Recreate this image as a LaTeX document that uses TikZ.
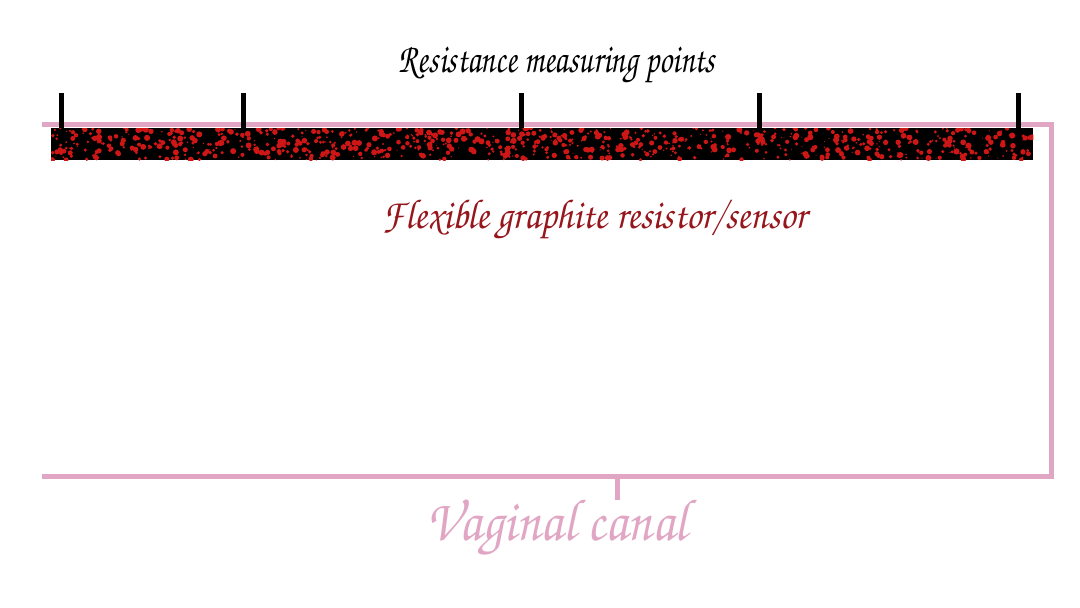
\documentclass[tikz,border=0pt]{standalone}
\usepackage[T1]{fontenc}
\usepackage{tikz}
\definecolor{canalpink}{RGB}{225,166,196}
\definecolor{sensorred}{RGB}{150,22,28}
\definecolor{grainred}{RGB}{205,22,22}

\begin{document}
\begin{tikzpicture}[x=1pt, y=-1pt,
  lbl/.style={inner sep=0pt, anchor=base},
  canal/.style={draw=canalpink, line width=5pt},
  probe/.style={draw=black, line width=5pt},
  grain/.style={fill=grainred}
]
  \useasboundingbox (0,0) rectangle (1080,608);

  % Labels
  \node[lbl, font=\fontfamily{pzc}\fontsize{32}{34}\selectfont] at (557,72) (pts)
      {\scalebox{1}[1.3]{Resistance measuring points}};
  \node[lbl, text=sensorred, font=\fontfamily{pzc}\fontsize{38}{40}\selectfont] at (595,228) (sens)
      {\scalebox{1}[1.1]{Flexible graphite resistor/sensor}};
  \node[lbl, text=canalpink, font=\fontfamily{pzc}\fontsize{53}{55}\selectfont] at (557,540) (vag)
      {\scalebox{1}[1.12]{Vaginal canal}};

  % Canal outline
  \coordinate (tl) at (42,124);
  \coordinate (br) at (1051,476);
  \coordinate (bl) at (42,476);
  \coordinate (stub) at (617,476);
  \coordinate (stubend) at (617,500);
  \draw[canal] (tl) -| (br) -- (bl);
  \draw[canal] (stub) -- (stubend);

  % Sensor strip
  \node[fill=black, minimum width=982pt, minimum height=32pt, inner sep=0pt,
        anchor=north west] at (51,128) (bar) {};
  \begin{scope}
    \clip (bar.north west) rectangle (bar.south east);
    \pgfmathsetseed{11}
    \foreach \i in {1,...,900}
      \fill[grain] ({51+982*rnd},{128+32*rnd}) circle ({0.5+2.6*rnd});
  \end{scope}

  % Measuring points
  \foreach \x [count=\n] in {61,243,521,759,1018}
    \coordinate (p\n) at (\x,93);
  \foreach \n in {1,...,5}
    \draw[probe] (p\n) -- (p\n |- bar.north);

\end{tikzpicture}
\end{document}
